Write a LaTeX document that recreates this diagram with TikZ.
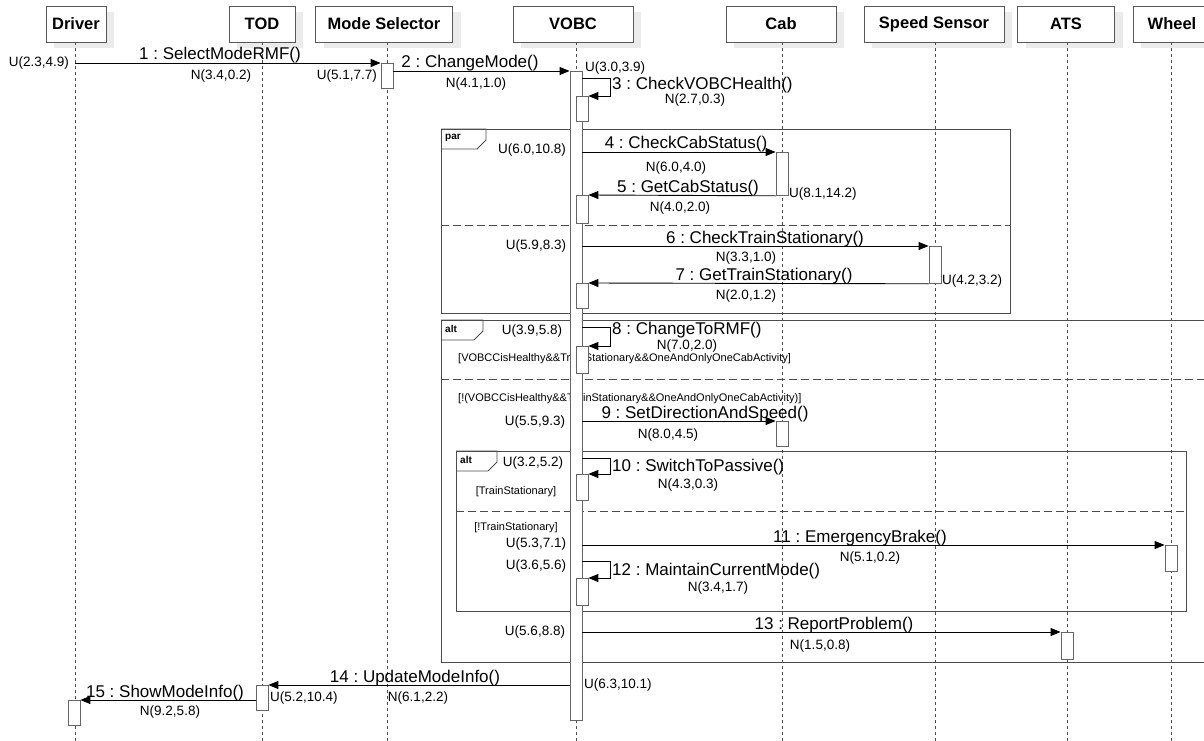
\documentclass[tikz,border=0pt]{standalone}
\usepackage{fontspec}
\setmainfont{Liberation Sans}
\usetikzlibrary{arrows.meta,shadows,calc}
\frenchspacing
\begin{document}
\begin{tikzpicture}[x=1pt,y=-1pt,
  hdr/.style={draw=black!65, fill=white, line width=0.8pt, minimum height=36pt, inner sep=0pt,
    font=\fontsize{16.5}{19}\selectfont\bfseries,
    general shadow={fill=black!8, shadow xshift=8pt, shadow yshift=-6pt}},
  life/.style={draw=black!70, line width=0.7pt, dash pattern=on 3pt off 3pt},
  act/.style={draw=black!60, fill=white, line width=0.8pt, minimum width=12pt, inner sep=0pt, anchor=north},
  msg/.style={draw=black, line width=0.9pt, -{Triangle[length=10pt,width=8pt]}},
  lbl/.style={font=\fontsize{17}{20}\selectfont, inner sep=0pt},
  sml/.style={font=\fontsize{13.5}{16}\selectfont, inner sep=0pt},
  grd/.style={font=\fontsize{11}{13}\selectfont, inner sep=0pt},
  frm/.style={draw=black!70, line width=0.9pt},
  sep/.style={draw=black!70, line width=0.9pt, dash pattern=on 8pt off 4pt},
  tab/.style={font=\fontsize{10}{12}\selectfont\bfseries, inner sep=0pt, anchor=west}
]
\useasboundingbox (0,0) rectangle (1204,741);

% ---------- headers ----------
\node[hdr, minimum width=60pt]  (driver) at (76,24)   {Driver};
\node[hdr, minimum width=66pt]  (tod)    at (262,24)  {TOD};
\node[hdr, minimum width=137pt] (modesel) at (384,24) {Mode Selector};
\node[hdr, minimum width=120pt] (vobch)  at (573,24)  {VOBC};
\node[hdr, minimum width=110pt] (cab)    at (781,24)  {Cab};
\node[hdr, minimum width=140pt] (speed)  at (934,24)  {Speed Sensor};
\node[hdr, minimum width=97pt]  (ats)    at (1066,24) {ATS};
\node[hdr, minimum width=78pt]  (wheel)  at (1172,24) {Wheel};

% ---------- frames ----------
% par
\draw[frm] (441,129) rectangle (1010,313);
\draw[frm] (441,129) -- (486,129) -- (486,140) -- (477,149) -- (441,149);
\node[tab] (partab) at (445,138) {par};
\draw[sep] (441,225) -- (1010,225);
% outer alt
\draw[frm] (441,320) rectangle (1220,662);
\draw[frm] (441,320) -- (483,320) -- (483,331) -- (474,340) -- (441,340);
\node[tab] (alttab1) at (445,329) {alt};
\draw[sep] (441,379) -- (1220,379);
% inner alt
\draw[frm] (456,451) rectangle (1186,611);
\draw[frm] (456,451) -- (497,451) -- (497,462) -- (488,471) -- (456,471);
\node[tab] (alttab2) at (460,460) {alt};
\draw[sep] (456,511) -- (1186,511);

% ---------- guards ----------
\node[grd, anchor=west] (g1) at (458,359) {[VOBCCisHealthy\&\&TrainStationary\&\&OneAndOnlyOneCabActivity]};
\node[grd, anchor=west] (g2) at (458,399) {[!(VOBCCisHealthy\&\&TrainStationary\&\&OneAndOnlyOneCabActivity)]};
\node[grd] (g3) at (516,492) {[TrainStationary]};
\node[grd] (g4) at (516,528) {[!TrainStationary]};

% ---------- lifelines ----------
\draw[life] (driver.south -| 75,0) -- (75,741);
\draw[life] (tod.south -| 262,0) -- (262,741);
\draw[life] (modesel.south -| 387,0) -- (387,741);
\draw[life] (vobch.south -| 576,0) -- (576,741);
\draw[life] (cab.south -| 782,0) -- (782,741);
\draw[life] (speed.south -| 935,0) -- (935,741);
\draw[life] (ats.south -| 1067,0) -- (1067,741);
\draw[life] (wheel.south -| 1171,0) -- (1171,741);

% ---------- activations ----------
\node[act, minimum height=25pt]  (ms1)  at (387,63)  {};
\node[act, minimum height=649pt] (vobc) at (576,71)  {};
\node[act, minimum height=25pt]  (v3)   at (582,96)  {};
\node[act, minimum height=43pt]  (cab1) at (782,152) {};
\node[act, minimum height=28pt]  (v5)   at (582,195) {};
\node[act, minimum height=37pt]  (ss1)  at (935,246) {};
\node[act, minimum height=25pt]  (v7)   at (582,283) {};
\node[act, minimum height=27pt]  (v8)   at (582,346) {};
\node[act, minimum height=25pt]  (cab2) at (782,421) {};
\node[act, minimum height=26pt]  (v10)  at (582,474) {};
\node[act, minimum height=26pt]  (wh1)  at (1171,545) {};
\node[act, minimum height=27pt]  (v12)  at (582,578) {};
\node[act, minimum height=27pt]  (ats1) at (1067,632) {};
\node[act, minimum height=25pt]  (tod1) at (262,685) {};
\node[act, minimum height=25pt]  (drv1) at (74,700)  {};

% ---------- messages ----------
\coordinate (m1s) at (75,63);
\draw[msg] (m1s) -- (ms1.north west);
\draw[msg] (ms1.east |- vobc.north) -- (vobc.north west);
\coordinate (l3) at (610,78);
\draw[msg] (vobc.east |- l3) -- (l3) |- (v3.north east);
\draw[msg] (vobc.east |- cab1.north) -- (cab1.north west);
\draw[msg] (cab1.south west) -- (v5.north east);
\draw[msg] (vobc.east |- ss1.north) -- (ss1.north west);
\draw[msg] (ss1.south west) -- (v7.north east);
\coordinate (l8) at (610,327);
\draw[msg] (vobc.east |- l8) -- (l8) |- (v8.north east);
\draw[msg] (vobc.east |- cab2.north) -- (cab2.north west);
\coordinate (l10) at (610,458);
\draw[msg] (vobc.east |- l10) -- (l10) |- (v10.north east);
\draw[msg] (vobc.east |- wh1.north) -- (wh1.north west);
\coordinate (l12) at (610,561);
\draw[msg] (vobc.east |- l12) -- (l12) |- (v12.north east);
\draw[msg] (vobc.east |- ats1.north) -- (ats1.north west);
\draw[msg] (vobc.west |- tod1.north) -- (tod1.north east);
\draw[msg] (tod1.west |- drv1.north) -- (drv1.north east);

% ---------- message labels ----------
\node[lbl, anchor=base] (t1) at (220,60) {1 : SelectModeRMF()};
\node[lbl, anchor=base] (t2) at (470,68) {2 : ChangeMode()};
\node[lbl, anchor=base west] (t3) at (612,90) {3 : CheckVOBCHealth()};
\node[lbl, anchor=base] (t4) at (686,149) {4 : CheckCabStatus()};
\node[lbl, anchor=base] (t5) at (688,192) {5 : GetCabStatus()};
\node[lbl, anchor=base] (t6) at (765,243) {6 : CheckTrainStationary()};
\node[lbl, anchor=base] (t7) at (764,280) {7 : GetTrainStationary()};
\node[lbl, anchor=base west] (t8) at (612,334) {8 : ChangeToRMF()};
\node[lbl, anchor=base] (t9) at (705,418) {9 : SetDirectionAndSpeed()};
\node[lbl, anchor=base west] (t10) at (612,471) {10 : SwitchToPassive()};
\node[lbl, anchor=base] (t11) at (860,542) {11 : EmergencyBrake()};
\node[lbl, anchor=base west] (t12) at (612,575) {12 : MaintainCurrentMode()};
\node[lbl, anchor=base] (t13) at (834,629) {13 : ReportProblem()};
\node[lbl, anchor=base] (t14) at (415,682) {14 : UpdateModeInfo()};
\node[lbl, anchor=base] (t15) at (165,697) {15 : ShowModeInfo()};

% ---------- U / N labels ----------
\node[sml, anchor=east] (u1) at (69,63) {U(2.3,4.9)};
\node[sml] (n1) at (221,76) {N(3.4,0.2)};
\node[sml, anchor=east] (u2) at (377,76) {U(5.1,7.7)};
\node[sml] (n2) at (476,84) {N(4.1,1.0)};
\node[sml, anchor=west] (u3) at (585,68) {U(3.0,3.9)};
\node[sml] (n3) at (695,100) {N(2.7,0.3)};
\node[sml] (u4) at (532,150) {U(6.0,10.8)};
\node[sml] (n4) at (676,168) {N(6.0,4.0)};
\node[sml, anchor=west] (u5) at (789,194) {U(8.1,14.2)};
\node[sml] (n5) at (680,208) {N(4.0,2.0)};
\node[sml] (u6) at (536,246) {U(5.9,8.3)};
\node[sml] (n6) at (746,258) {N(3.3,1.0)};
\node[sml, anchor=west] (u7) at (942,281) {U(4.2,3.2)};
\node[sml] (n7) at (746,296) {N(2.0,1.2)};
\node[sml] (u8) at (532,331) {U(3.9,5.8)};
\node[sml] (n8) at (687,346) {N(7.0,2.0)};
\node[sml] (u9) at (535,422) {U(5.5,9.3)};
\node[sml] (n9) at (668,435) {N(8.0,4.5)};
\node[sml] (u10) at (533,463) {U(3.2,5.2)};
\node[sml] (n10) at (688,485) {N(4.3,0.3)};
\node[sml] (u11) at (536,544) {U(5.3,7.1)};
\node[sml] (n11) at (870,558) {N(5.1,0.2)};
\node[sml] (u12) at (536,566) {U(3.6,5.6)};
\node[sml] (n12) at (718,588) {N(3.4,1.7)};
\node[sml] (u13) at (535,632) {U(5.6,8.8)};
\node[sml] (n13) at (820,646) {N(1.5,0.8)};
\node[sml, anchor=west] (u14) at (584,685) {U(6.3,10.1)};
\node[sml] (n14) at (418,698) {N(6.1,2.2)};
\node[sml, anchor=west] (u15) at (270,698) {U(5.2,10.4)};
\node[sml] (n15) at (170,712) {N(9.2,5.8)};
\end{tikzpicture}
\end{document}
